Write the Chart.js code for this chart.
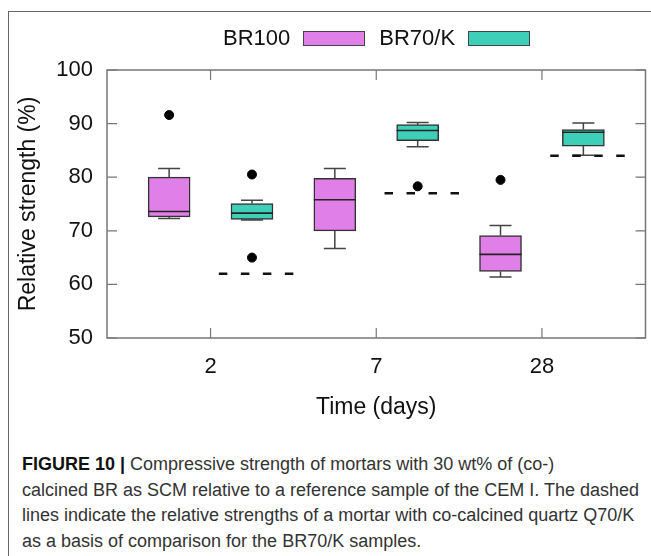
<!DOCTYPE html>
<html>
<head>
<meta charset="utf-8">
<script src="https://cdn.jsdelivr.net/npm/chart.js@4.4.1/dist/chart.umd.min.js"></script>
<style>
body { margin: 0; background: #fff; width: 651px; height: 556px; overflow: hidden; position: relative; font-family: "Liberation Sans", Arial, sans-serif; }
#frame { position: absolute; left: 8px; top: 11px; right: 0; bottom: 0; border-top: 1px solid #666; border-left: 1px solid #666; }
#chartCanvas { position: absolute; left: 0; top: 0; }
#legend { position: absolute; top: 24px; left: 223px; height: 26px; font-size: 22px; color: #111; line-height: 26px; white-space: nowrap; }
#legend span { display: inline-block; vertical-align: middle; }
#legend .swatch { width: 60px; height: 13px; border: 1px solid #444; margin: 0 14px 0 13px; }
#caption { position: absolute; left: 22px; top: 452px; font-size: 18px; line-height: 25.5px; color: #333; white-space: nowrap; }
#caption b { color: #111; }
</style>
</head>
<body>
<div id="frame"></div>
<canvas id="chartCanvas" width="651" height="430"></canvas>
<div id="legend">
  <span>BR100</span><span class="swatch" style="background:#e07fe8"></span><span>BR70/K</span><span class="swatch" style="background:#3ecfb8"></span>
</div>
<div id="caption">
  <b>FIGURE 10 |</b> Compressive strength of mortars with 30 wt% of (co-)<br>
  calcined BR as SCM relative to a reference sample of the CEM I. The dashed<br>
  lines indicate the relative strengths of a mortar with co-calcined quartz Q70/K<br>
  as a basis of comparison for the BR70/K samples.
</div>
<script>
// time points (days)
var days = ['2', '7', '28'];
var yTicks = [50, 60, 70, 80, 90, 100];

// BR100 box statistics
var br100Min = [72.3, 66.7, 61.4];
var br100Q1 = [72.6, 70.0, 62.4];
var br100Median = [73.6, 75.8, 65.6];
var br100Q3 = [80.0, 79.8, 69.1];
var br100Max = [81.6, 81.6, 71.0];
var br100Outliers = [[91.6], [], [79.5]];

// BR70/K box statistics
var br70kMin = [72.0, 85.7, 84.1];
var br70kQ1 = [72.1, 86.8, 85.8];
var br70kMedian = [73.3, 88.7, 88.4];
var br70kQ3 = [75.1, 89.8, 88.9];
var br70kMax = [75.7, 90.2, 90.1];
var br70kOutliers = [[80.5, 65.0], [78.3], []];

// co-calcined quartz Q70/K (dashed lines)
var q70kReference = [62, 77, 84];

var violet = '#e07fe8';
var teal = '#3ecfb8';
var groupOffset = 0.25;

var series = [
    { label: 'BR100', color: violet, offset: -groupOffset, min: br100Min, q1: br100Q1, med: br100Median, q3: br100Q3, max: br100Max, out: br100Outliers },
    { label: 'BR70/K', color: teal, offset: groupOffset, min: br70kMin, q1: br70kQ1, med: br70kMedian, q3: br70kQ3, max: br70kMax, out: br70kOutliers }
];

function boxData(s) {
    return days.map(function (d, i) {
        return { x: i + 1 + s.offset, y: [s.q1[i], s.q3[i]] };
    });
}

function outlierData() {
    var pts = [];
    series.forEach(function (s) {
        s.out.forEach(function (vals, i) {
            vals.forEach(function (v) {
                pts.push({ x: i + 1 + s.offset, y: v });
            });
        });
    });
    return pts;
}

function referenceData() {
    var pts = [];
    q70kReference.forEach(function (v, i) {
        pts.push({ x: i + 1.05, y: v });
        pts.push({ x: i + 1.51, y: v });
        pts.push({ x: i + 1.7, y: null });
    });
    return pts;
}

// whiskers, caps and medians drawn with the chart's scales
var boxPlotPlugin = {
    id: 'boxPlotExtras',
    beforeDatasetsDraw: function (chart) {
        var ctx = chart.ctx;
        var x = chart.scales.x, y = chart.scales.y;
        ctx.save();
        ctx.strokeStyle = '#444';
        ctx.lineWidth = 1.5;
        series.forEach(function (s) {
            days.forEach(function (d, i) {
                var px = x.getPixelForValue(i + 1 + s.offset);
                ctx.beginPath();
                ctx.moveTo(px, y.getPixelForValue(s.q3[i]));
                ctx.lineTo(px, y.getPixelForValue(s.max[i]));
                ctx.moveTo(px, y.getPixelForValue(s.q1[i]));
                ctx.lineTo(px, y.getPixelForValue(s.min[i]));
                ctx.moveTo(px - 11, y.getPixelForValue(s.max[i]));
                ctx.lineTo(px + 11, y.getPixelForValue(s.max[i]));
                ctx.moveTo(px - 11, y.getPixelForValue(s.min[i]));
                ctx.lineTo(px + 11, y.getPixelForValue(s.min[i]));
                ctx.stroke();
            });
        });
        ctx.restore();
    },
    afterDatasetsDraw: function (chart) {
        var ctx = chart.ctx;
        var x = chart.scales.x, y = chart.scales.y;
        var area = chart.chartArea;
        ctx.save();
        ctx.strokeStyle = '#222';
        ctx.lineWidth = 1.6;
        series.forEach(function (s) {
            days.forEach(function (d, i) {
                var px = x.getPixelForValue(i + 1 + s.offset);
                var py = y.getPixelForValue(s.med[i]);
                ctx.beginPath();
                ctx.moveTo(px - 21, py);
                ctx.lineTo(px + 21, py);
                ctx.stroke();
            });
        });
        // frame and inward ticks
        ctx.strokeStyle = '#777';
        ctx.lineWidth = 1.5;
        ctx.strokeRect(area.left, area.top, area.right - area.left, area.bottom - area.top);
        ctx.lineWidth = 1.2;
        ctx.beginPath();
        days.forEach(function (d, i) {
            var px = x.getPixelForValue(i + 1);
            ctx.moveTo(px, area.bottom);
            ctx.lineTo(px, area.bottom - 10);
            ctx.moveTo(px, area.top);
            ctx.lineTo(px, area.top + 10);
        });
        yTicks.forEach(function (v) {
            var py = y.getPixelForValue(v);
            ctx.moveTo(area.left, py);
            ctx.lineTo(area.left + 10, py);
            ctx.moveTo(area.right, py);
            ctx.lineTo(area.right - 10, py);
        });
        ctx.stroke();
        ctx.restore();
    }
};

var tickFont = { family: '"Liberation Sans", Arial, sans-serif', size: 22 };
var titleFont = { family: '"Liberation Sans", Arial, sans-serif', size: 23 };

var myChart = new Chart(document.getElementById('chartCanvas'), {
    type: 'bar',
    data: {
        datasets: [
            {
                label: 'BR100',
                data: boxData(series[0]),
                backgroundColor: violet,
                borderColor: '#333',
                borderWidth: 1.5,
                borderSkipped: false,
                barThickness: 42,
                grouped: false,
                order: 2
            },
            {
                label: 'BR70/K',
                data: boxData(series[1]),
                backgroundColor: teal,
                borderColor: '#333',
                borderWidth: 1.5,
                borderSkipped: false,
                barThickness: 42,
                grouped: false,
                order: 2
            },
            {
                type: 'line',
                label: 'Q70/K',
                data: referenceData(),
                borderColor: '#111',
                borderWidth: 2.5,
                borderDash: [8.5, 13.5],
                pointRadius: 0,
                spanGaps: false,
                fill: false,
                order: 1
            },
            {
                type: 'scatter',
                label: 'outliers',
                data: outlierData(),
                backgroundColor: '#000',
                borderColor: '#000',
                pointRadius: 4.5,
                order: 0
            }
        ]
    },
    options: {
        responsive: false,
        animation: false,
        layout: { padding: { top: 70, right: 2, left: 0, bottom: 0 } },
        plugins: {
            legend: { display: false },
            tooltip: { enabled: false }
        },
        scales: {
            x: {
                type: 'linear',
                offset: false,
                min: 0.375,
                max: 3.625,
                grid: { display: false, drawTicks: false, offset: false },
                border: { display: false },
                afterBuildTicks: function (scale) {
                    scale.ticks = days.map(function (d, i) { return { value: i + 1 }; });
                },
                afterFit: function (scale) { scale.height = 92; },
                ticks: {
                    padding: 16,
                    color: '#111',
                    font: tickFont,
                    callback: function (value) { return days[value - 1]; }
                },
                title: {
                    display: true,
                    text: 'Time (days)',
                    color: '#111',
                    font: titleFont,
                    padding: { top: 0, bottom: 9 }
                }
            },
            y: {
                min: 50,
                max: 100,
                grid: { display: false, drawTicks: false },
                border: { display: false },
                afterBuildTicks: function (scale) {
                    scale.ticks = yTicks.map(function (v) { return { value: v }; });
                },
                afterFit: function (scale) { scale.width = 107; },
                ticks: {
                    padding: 14,
                    color: '#111',
                    font: tickFont
                },
                title: {
                    display: true,
                    text: 'Relative strength (%)',
                    color: '#111',
                    font: titleFont,
                    padding: { top: 15, bottom: 0 }
                }
            }
        }
    },
    plugins: [boxPlotPlugin]
});
</script>
</body>
</html>
